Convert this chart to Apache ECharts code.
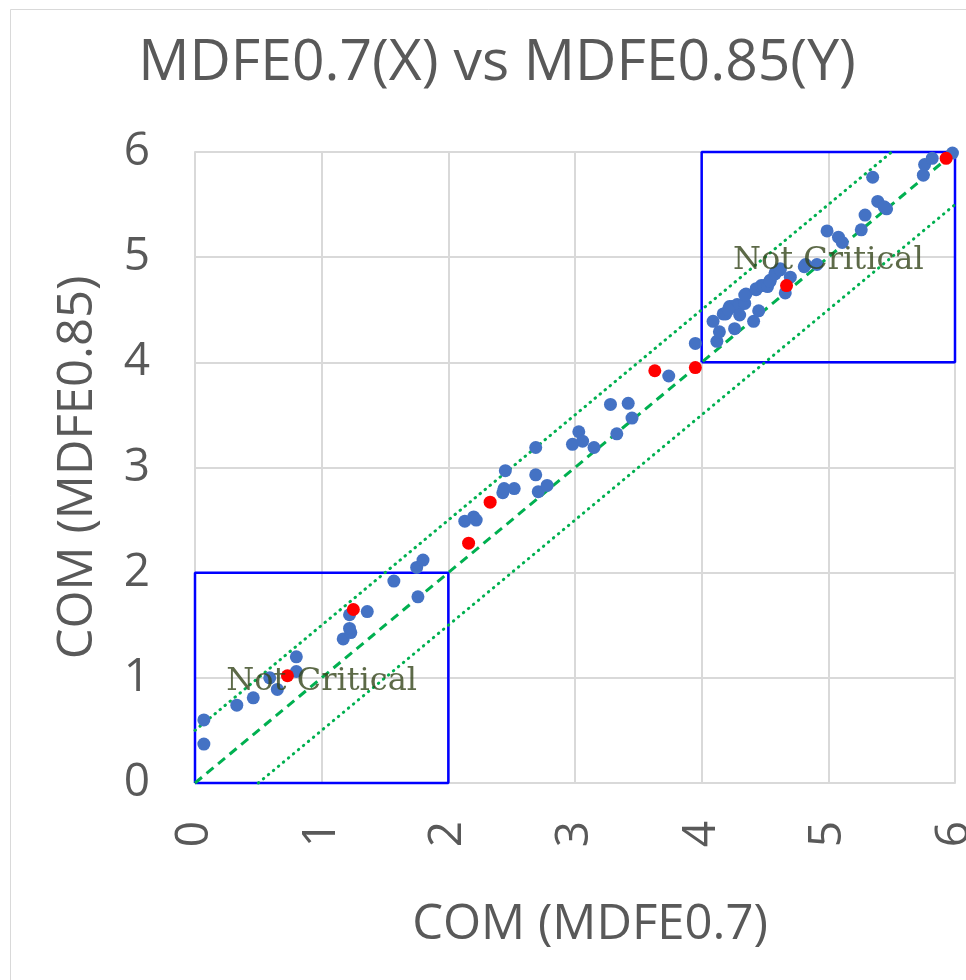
<!DOCTYPE html>
<html>
<head>
<meta charset="utf-8">
<script src="https://cdn.jsdelivr.net/npm/echarts@6/dist/echarts.min.js"></script>
<style>
  html, body { margin: 0; padding: 0; background: #ffffff; }
  #chart { width: 966px; height: 980px; }
</style>
</head>
<body>
<div id="chart"></div>
<script>
// COM values of each case under MDFE0.7 (x) and MDFE0.85 (y)
const blueX = [
  0.07, 0.07, 0.33, 0.46, 0.59, 0.65, 0.80, 0.80, 1.17, 1.23, 1.22, 1.22, 1.36, 1.57, 1.76, 1.75, 1.80,
  2.13, 2.20, 2.22, 2.43, 2.44, 2.52, 2.45, 2.69, 2.69, 2.71, 2.78, 2.98, 3.03, 3.06, 3.15, 3.28, 3.42, 3.45, 3.33, 3.74,
  3.95, 4.12, 4.14, 4.09, 4.26, 4.41, 4.45, 4.17, 4.19, 4.22, 4.24, 4.28, 4.29, 4.21, 4.30, 4.34, 4.35, 4.34,
  4.43, 4.43, 4.47, 4.49, 4.52, 4.54, 4.54, 4.58, 4.58, 4.62, 4.62, 4.66, 4.70, 4.81, 4.82, 4.91,
  4.99, 5.08, 5.11, 5.26, 5.29, 5.39, 5.46, 5.44, 5.35, 5.75, 5.76, 5.82, 5.98
];
const blueY = [
  0.37, 0.60, 0.74, 0.81, 1.00, 0.89, 1.06, 1.20, 1.37, 1.43, 1.47, 1.60, 1.63, 1.92, 1.77, 2.05, 2.12,
  2.49, 2.53, 2.50, 2.76, 2.80, 2.80, 2.97, 3.19, 2.93, 2.77, 2.83, 3.22, 3.34, 3.25, 3.19, 3.60, 3.61, 3.47, 3.32, 3.87,
  4.18, 4.20, 4.29, 4.39, 4.32, 4.39, 4.49, 4.46, 4.46, 4.53, 4.53, 4.55, 4.53, 4.50, 4.45, 4.56, 4.65, 4.64,
  4.69, 4.70, 4.73, 4.73, 4.72, 4.78, 4.77, 4.85, 4.84, 4.89, 4.88, 4.66, 4.81, 4.91, 4.93, 4.93,
  5.25, 5.19, 5.14, 5.26, 5.40, 5.53, 5.46, 5.48, 5.76, 5.78, 5.88, 5.94, 5.99
];
// highlighted cases
const redX = [0.73, 1.25, 2.16, 2.33, 3.63, 3.95, 4.67, 5.93];
const redY = [1.02, 1.65, 2.28, 2.67, 3.92, 3.95, 4.73, 5.94];

// reference lines: y = x and y = x ± 0.5
const diagX = [0, 6];
const diagY = [0, 6];
const upperX = [0, 5.5];
const upperY = [0.5, 6];
const lowerX = [0.5, 6];
const lowerY = [0, 5.5];

// "Not Critical" zones
const zoneLowX = [0, 2, 2, 0, 0];
const zoneLowY = [0, 0, 2, 2, 0];
const zoneHighX = [4, 6, 6, 4, 4];
const zoneHighY = [4, 4, 6, 6, 4];
const noteX = [1, 5];
const noteY = [1, 5];
const noteText = ['Not Critical', 'Not Critical'];

const zip = (xs, ys) => xs.map((x, i) => [x, ys[i]]);

const SANS = '"Open Sans", "Noto Sans", sans-serif';
const GREY = '#595959';
const GREEN = '#00b050';

const chart = echarts.init(document.getElementById('chart'));

chart.setOption({
  backgroundColor: '#ffffff',
  animation: false,
  title: {
    text: 'MDFE0.7(X) vs MDFE0.85(Y)',
    left: 492,
    textAlign: 'center',
    top: 30,
    textStyle: { fontFamily: SANS, fontSize: 57, fontWeight: 'normal', color: GREY }
  },
  graphic: [{
    type: 'rect',
    shape: { x: 10.5, y: 9.5, width: 1200, height: 1200 },
    style: { fill: 'none', stroke: '#d9d9d9', lineWidth: 1 },
    silent: true
  }],
  grid: { left: 195, right: 11, top: 152, bottom: 197, containLabel: false, outerBoundsMode: 'none' },
  xAxis: {
    type: 'value',
    min: 0, max: 6, interval: 1,
    name: 'COM (MDFE0.7)',
    nameLocation: 'middle',
    nameGap: 118,
    nameTextStyle: { fontFamily: SANS, fontSize: 49, color: GREY, padding: [0, 0, 0, 30] },
    axisLine: { show: true, lineStyle: { color: '#d9d9d9', width: 2 } },
    axisTick: { show: false },
    axisLabel: { rotate: 90, margin: 38, fontFamily: SANS, fontSize: 46, color: GREY },
    splitLine: { show: true, lineStyle: { color: '#d9d9d9', width: 2 } }
  },
  yAxis: {
    type: 'value',
    min: 0, max: 6, interval: 1,
    name: 'COM (MDFE0.85)',
    nameLocation: 'middle',
    nameGap: 92,
    nameTextStyle: { fontFamily: SANS, fontSize: 49, color: GREY },
    axisLine: { show: true, lineStyle: { color: '#d9d9d9', width: 2 } },
    axisTick: { show: false },
    axisLabel: { margin: 45, fontFamily: SANS, fontSize: 46, color: GREY },
    splitLine: { show: true, lineStyle: { color: '#d9d9d9', width: 2 } }
  },
  series: [
    {
      type: 'line', data: zip(zoneLowX, zoneLowY), symbol: 'none', clip: false, z: 3,
      lineStyle: { color: '#0000ff', width: 2.5 }
    },
    {
      type: 'line', data: zip(zoneHighX, zoneHighY), symbol: 'none', clip: false, z: 3,
      lineStyle: { color: '#0000ff', width: 2.5 }
    },
    {
      type: 'line', data: zip(diagX, diagY), symbol: 'none', clip: false, z: 3,
      lineStyle: { color: GREEN, width: 3, type: [9, 6] }
    },
    {
      type: 'line', data: zip(upperX, upperY), symbol: 'none', clip: false, z: 3,
      lineStyle: { color: GREEN, width: 3, type: [0.5, 6], cap: 'round' }
    },
    {
      type: 'line', data: zip(lowerX, lowerY), symbol: 'none', clip: false, z: 3,
      lineStyle: { color: GREEN, width: 3, type: [0.5, 6], cap: 'round' }
    },
    {
      type: 'scatter', data: zip(blueX, blueY), symbol: 'circle', symbolSize: 13, z: 4,
      itemStyle: { color: '#4472c4', opacity: 1 }
    },
    {
      type: 'scatter', data: zip(redX, redY), symbol: 'circle', symbolSize: 13, z: 5,
      itemStyle: { color: '#ff0000', opacity: 1 }
    },
    {
      type: 'scatter', z: 6, symbolSize: 0, silent: true,
      data: noteX.map((x, i) => ({ value: [x, noteY[i]], name: noteText[i] })),
      label: {
        show: true, position: 'inside', offset: [0, 4], formatter: p => p.name,
        fontFamily: '"DejaVu Serif", "Liberation Serif", serif', fontSize: 32, color: '#34451a'
      }
    }
  ]
});
</script>
</body>
</html>
